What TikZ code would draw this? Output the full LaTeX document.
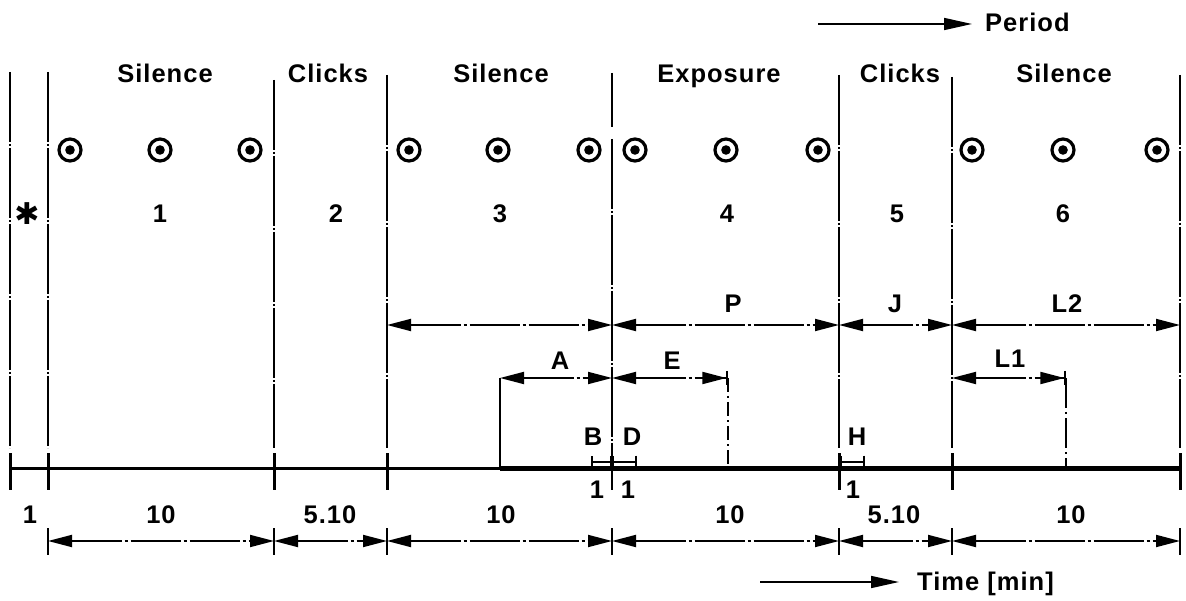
\documentclass[tikz,border=0pt]{standalone}
\usepackage{fontspec}
\setmainfont{Liberation Sans}[LetterSpace=4]
\newfontfamily\symfont{DejaVu Sans}
\usetikzlibrary{arrows.meta}
\begin{document}
\begin{tikzpicture}[x=1pt,y=-1pt,
  lbl/.style={font=\fontsize{25.5}{26}\selectfont\bfseries, anchor=base, inner sep=0pt},
  vline/.style={line width=1.6pt, dash pattern=on 70pt off 2pt on 2pt off 2pt},
  tickline/.style={line width=3pt},
  extline/.style={line width=1.6pt},
  dim/.style={line width=1.8pt, dash pattern=on 50pt off 3pt on 3pt off 3pt,
    {Triangle[length=24pt,width=12pt]}-{Triangle[length=24pt,width=12pt]}},
  dimend/.style={line width=1.8pt, dash pattern=on 50pt off 3pt on 3pt off 3pt,
    {Triangle[length=24pt,width=12pt]}-{Triangle[length=24pt,width=12pt]Bar[width=14pt,line width=1.6pt]}},
  small/.style={line width=1.6pt, {Bar[width=13pt,line width=1.6pt]}-{Bar[width=13pt,line width=1.6pt]}},
  dir/.style={line width=1.6pt, -{Triangle[length=28pt,width=12pt]}},
  target/.style={circle, draw, line width=3.2pt, minimum size=22pt, inner sep=0pt,
    path picture={\fill (path picture bounding box.center) circle (4.8pt);}}
]
\useasboundingbox (0,0) rectangle (1186,601);

% vertical boundary lines
\foreach \i/\x/\t in {0/10/72, 1/48/72, 2/274/80, 3/387/75, 5/839/75, 6/952/77, 7/1180/75}{
  \coordinate (v\i t) at (\x,\t);
  \coordinate (v\i b) at (\x,448);
  \coordinate (k\i t) at (\x,453);
  \coordinate (k\i b) at (\x,490);
  \draw[vline] (v\i t) -- (v\i b);
  \draw[tickline] (k\i t) -- (k\i b);
}
\coordinate (v4t) at (612,73);
\coordinate (v4m) at (612,127);
\coordinate (v4n) at (612,139);
\coordinate (v4b) at (612,490);
\draw[vline] (v4t) -- (v4m);
\draw[vline] (v4n) -- (v4b);

% time line
\coordinate (tl0) at (10,468);
\coordinate (tl1) at (500,468);
\coordinate (tl2) at (1180,468);
\draw[line width=3pt] (tl0) -- (tl2);
\draw[line width=5pt] (tl1) -- (tl2);

% header texts
\node[lbl] (h1) at (165,83) {Silence};
\node[lbl] (h2) at (328,83) {Clicks};
\node[lbl] (h3) at (501,83) {Silence};
\node[lbl] (h4) at (719,83) {Exposure};
\node[lbl] (h5) at (900,83) {Clicks};
\node[lbl] (h6) at (1064,83) {Silence};

% period arrow
\coordinate (pa0) at (818,24);
\coordinate (pa1) at (972,24);
\draw[dir] (pa0) -- (pa1);
\node[lbl, anchor=base west] (period) at (985,32) {Period};

% targets
\foreach \x [count=\n] in {70,160,250,409,498,589,635,726,818,972,1063,1157}{
  \node[target] (c\n) at (\x,150) {};
}

% period numbers
\node[font=\symfont\bfseries\fontsize{30}{30}\selectfont, inner sep=0pt] (ast) at (27,214) {✱};
\node[lbl] (n1) at (160,223) {1};
\node[lbl] (n2) at (336,223) {2};
\node[lbl] (n3) at (500,223) {3};
\node[lbl] (n4) at (727,223) {4};
\node[lbl] (n5) at (897,223) {5};
\node[lbl] (n6) at (1063,223) {6};

% upper dimension row
\coordinate (p3) at (387,325);
\coordinate (p4) at (612,325);
\coordinate (p5) at (839,325);
\coordinate (p6) at (952,325);
\coordinate (p7) at (1180,325);
\draw[dim] (p3) -- (p4);
\draw[dim] (p4) -- (p5);
\draw[dim] (p5) -- (p6);
\draw[dim] (p6) -- (p7);
\node[lbl] (lP) at (733,313) {P};
\node[lbl] (lJ) at (895,313) {J};
\node[lbl] (lL2) at (1067,313) {L2};

% A / E / L1 row
\coordinate (a0) at (500,378);
\coordinate (a1) at (612,378);
\coordinate (e1) at (728,378);
\coordinate (l0) at (952,378);
\coordinate (l1) at (1066,378);
\draw[dim] (a0) -- (a1);
\draw[dimend] (a1) -- (e1);
\draw[dimend] (l0) -- (l1);
\node[lbl] (lA) at (560,370) {A};
\node[lbl] (lE) at (672,370) {E};
\node[lbl] (lL1) at (1010,368) {L1};
\coordinate (a0b) at (500,468);
\coordinate (e1b) at (728,466);
\coordinate (l1b) at (1066,466);
\draw[extline] (a0) -- (a0b);
\draw[extline, dash pattern=on 14pt off 4pt on 2pt off 4pt] (e1) -- (e1b);
\draw[extline, dash pattern=on 30pt off 4pt on 2pt off 4pt] (l1) -- (l1b);

% small B / D / H
\coordinate (s0) at (591,462);
\coordinate (s1) at (612,462);
\coordinate (s2) at (637,462);
\coordinate (s3) at (840,462);
\coordinate (s4) at (865,462);
\draw[small] (s0) -- (s1);
\draw[small] (s1) -- (s2);
\draw[small] (s3) -- (s4);
\node[lbl] (lB) at (593,445) {B};
\node[lbl] (lD) at (632,445) {D};
\node[lbl] (lH) at (857,445) {H};
\node[lbl] (o1) at (597,498) {1};
\node[lbl] (o2) at (628,498) {1};
\node[lbl] (o3) at (853,498) {1};

% lower dimension row
\foreach \i/\x in {1/48, 2/274, 3/387, 4/612, 5/839, 6/952, 7/1180}{
  \coordinate (q\i) at (\x,541);
  \coordinate (q\i t) at (\x,528);
  \coordinate (q\i b) at (\x,555);
  \draw[extline] (q\i t) -- (q\i b);
}
\foreach \i [evaluate=\i as \j using int(\i+1)] in {1,...,6}{
  \draw[dim] (q\i) -- (q\j);
}
\node[lbl] (d0) at (30,523) {1};
\node[lbl] (d1) at (161,523) {10};
\node[lbl] (d2) at (330,523) {5.10};
\node[lbl] (d3) at (501,523) {10};
\node[lbl] (d4) at (730,523) {10};
\node[lbl] (d5) at (894,523) {5.10};
\node[lbl] (d6) at (1071,523) {10};

% time arrow
\coordinate (ta0) at (760,582);
\coordinate (ta1) at (899,582);
\draw[dir] (ta0) -- (ta1);
\node[lbl, anchor=base west] (time) at (917,590) {Time [min]};
\end{tikzpicture}
\end{document}
